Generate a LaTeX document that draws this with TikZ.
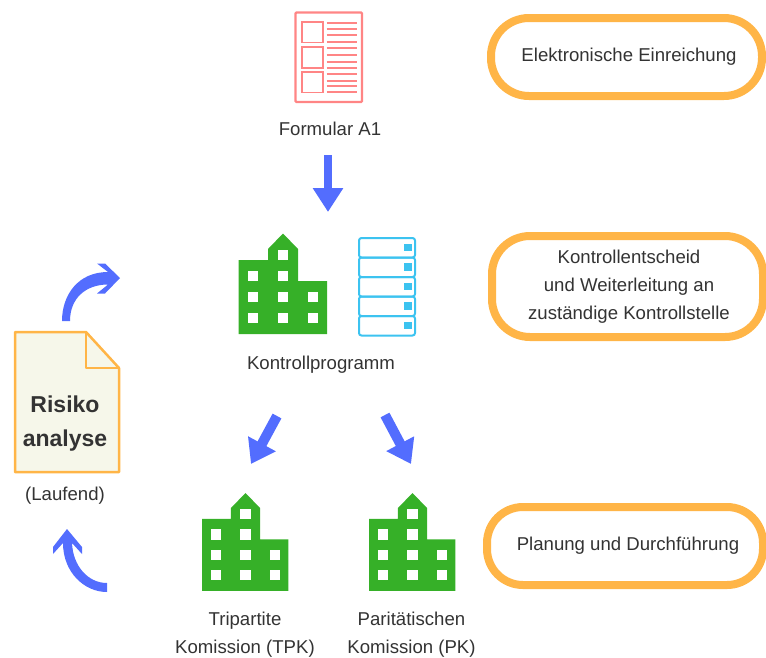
\documentclass[tikz,border=0pt]{standalone}
\usepackage{fontspec}
\setmainfont{Liberation Sans}
\usetikzlibrary{arrows.meta}
\definecolor{bluearrow}{HTML}{536DFE}
\definecolor{greenb}{HTML}{36B028}
\definecolor{orangeb}{HTML}{FFB547}
\definecolor{redform}{HTML}{FF8585}
\definecolor{cyans}{HTML}{3CC3F0}
\definecolor{txt}{HTML}{333333}
\definecolor{docfill}{HTML}{F6F7EA}
\tikzset{x=1pt,y=-1pt,
  lbl/.style={font=\fontsize{18.6}{28}\selectfont,text=txt,align=center,inner sep=0pt},
  pill/.style={draw=orangeb,line width=8pt,fill=white},
  straightarrow/.style={draw=bluearrow,line width=8pt,-{Triangle[length=24pt,width=29pt]}},
  diagarrow/.style={draw=bluearrow,line width=10pt,-{Triangle[length=23pt,width=30pt]}},
  curvearrow/.style={fill=bluearrow,draw=none},
  building/.pic={
    \fill[greenb] (-44.5,100.5) -- (-44.5,26.5) -- (-15,26.5) -- (-15,15.5) -- (0,0) -- (15,15.5) -- (15,47.5) -- (44,47.5) -- (44,100.5) -- cycle;
    \foreach \cx/\cy in {-30/42.5,-30/63.5,-30/84.5,0/21.5,0/42.5,0/63.5,0/84.5,30/63.5,30/84.5}
      \fill[white] (\cx-5.2,\cy-5.2) rectangle (\cx+5.2,\cy+5.2);
  }
}
\begin{document}
\begin{tikzpicture}
\useasboundingbox (0,0) rectangle (766,657);
% form
\draw[redform,line width=2.4pt,rounded corners=1pt] (295.5,12.5) rectangle (362,102);
\foreach \y/\h in {22/20.5,47/21,72/20.5}{
  \draw[redform,line width=1.8pt] (301.7,\y) rectangle (322.7,\y+\h);
}
\foreach \y in {22.7,29,35,41.7,48.3,55,61.7,68.3,74,80.7,86,91.7}{
  \draw[redform,line width=1.8pt] (326.7,\y) -- (356.7,\y);
}
\node[lbl] (formlbl) at (330,129) {Formular A1};
% central
\pic at (283,233.5) {building};
% server
\foreach \y in {238,257.5,277,296.5,316}{
  \draw[cyans,line width=2pt,rounded corners=2.5pt] (359,\y) rectangle (415,\y+19.5);
  \fill[cyans] (404,\y+5.5) rectangle (411.5,\y+13);
}
\node[lbl] (kontrolllbl) at (321,365) {Kontrollprogramm};
% lower
\pic[scale=0.975] at (245.5,493) {building};
\pic[scale=0.975] at (412.5,493) {building};
\node[lbl] (tpklbl) at (245,635) {Tripartite\\Komission (TPK)};
\node[lbl] (pklbl) at (411.5,635) {Paritätischen\\Komission (PK)};
% straight arrows
\coordinate (a1s) at (328,155); \coordinate (a1e) at (328,212);
\coordinate (a2s) at (277,416); \coordinate (a2e) at (251,464);
\coordinate (a3s) at (385,415); \coordinate (a3e) at (411,464);
\draw[straightarrow] (a1s) -- (a1e);
\draw[diagarrow] (a2s) -- (a2e);
\draw[diagarrow] (a3s) -- (a3e);
% document
\draw[orangeb,fill=docfill,line width=2.5pt,line join=round] (15,332) -- (86,332) -- (119,368) -- (119,472) -- (15,472) -- cycle;
\draw[orangeb,line width=2.5pt,line join=round] (86,332) -- (86,368) -- (119,368);
\node[font=\fontsize{23}{34}\selectfont\bfseries,text=txt,align=center,inner sep=0pt] (doclbl) at (65,423.5) {Risiko\\analyse};
\node[lbl] (lauf) at (65,495.5) {(Laufend)};
% curved arrows
\fill[curvearrow] (62,321) .. controls (62,295) and (78,272) .. (108,272)
  -- (97,263.5) -- (105,263.5) -- (120,278) -- (105,293.5) -- (97,293.5) -- (108,284.5)
  .. controls (86,284.5) and (70,298) .. (70,321) -- cycle;
\fill[curvearrow] (107,583) .. controls (88,583) and (73,566) .. (72,543)
  -- (82,554) -- (82,547) -- (67,529) -- (53,547) -- (53,554) -- (63,543)
  .. controls (63,572) and (84,592) .. (107,592) -- cycle;
% pills
\draw[pill,rounded corners=38pt] (491,18) rectangle (762,96);
\draw[pill,rounded corners=38pt] (492,236) rectangle (763,337);
\draw[pill,rounded corners=36pt] (487,507) rectangle (763,585);
\node[lbl] (b1) at (629,57) {Elektronische Einreichung};
\node[lbl] (b2) at (629,287) {Kontrollentscheid\\und Weiterleitung an\\zuständige Kontrollstelle};
\node[lbl] (b3) at (628,546) {Planung und Durchführung};
\end{tikzpicture}
\end{document}
